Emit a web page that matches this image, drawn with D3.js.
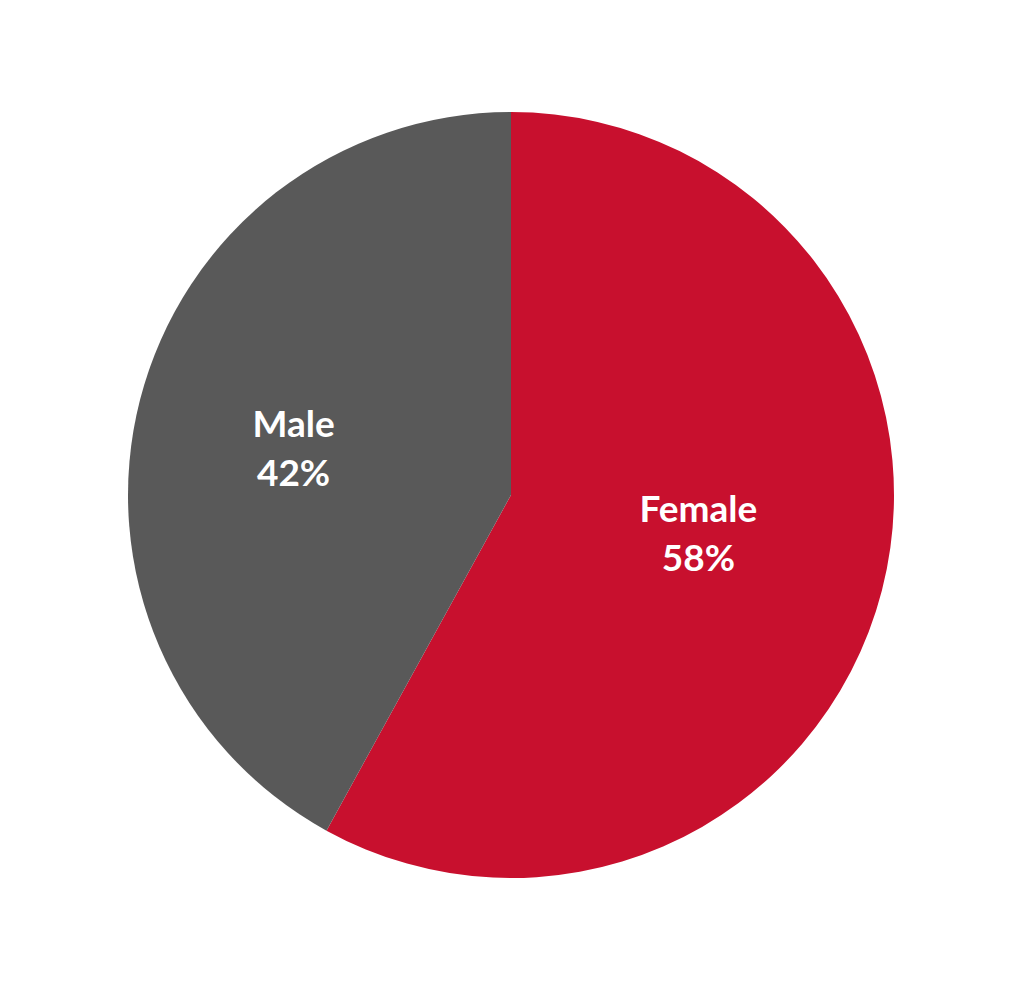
<script src="https://d3js.org/d3.v7.min.js"></script>
<style>
  body { margin: 0; background: #fff; }
</style>
<div id="my_dataviz"></div>
<script>

// data
var categories = ["Female", "Male"];
var shares = [58, 42];
var colors = ["#C8102E", "#595959"];

// set the dimensions of the graph
var width = 1023,
    height = 990,
    cx = 511,
    cy = 495,
    radius = 383;

var svg = d3.select("#my_dataviz")
  .append("svg")
    .attr("width", width)
    .attr("height", height)
  .append("g")
    .attr("transform", "translate(" + cx + "," + cy + ")");

var data = categories.map(function(c, i) { return {name: c, value: shares[i]}; });

var color = d3.scaleOrdinal()
  .domain(categories)
  .range(colors);

// first slice starts at 12 o'clock, clockwise, keep input order
var pie = d3.pie()
  .sort(null)
  .value(function(d) { return d.value; });

var arc = d3.arc()
  .innerRadius(0)
  .outerRadius(radius);

var arcs = pie(data);

svg.selectAll("path")
  .data(arcs)
  .enter()
  .append("path")
    .attr("d", arc)
    .attr("fill", function(d) { return color(d.data.name); });

// labels sit roughly where Excel's best fit puts them
var labelRadius = {Female: radius * 0.50, Male: radius * 0.58};
var angleShift = -0.045;

var labels = svg.selectAll("g.lbl")
  .data(arcs)
  .enter()
  .append("g")
    .attr("class", "lbl")
    .attr("transform", function(d) {
      var r = labelRadius[d.data.name];
      var a = (d.startAngle + d.endAngle) / 2 + angleShift;
      return "translate(" + (r * Math.sin(a)) + "," + (-r * Math.cos(a)) + ")";
    });

labels.append("text")
  .attr("y", -12)
  .attr("text-anchor", "middle")
  .style("font-family", "Lato, 'Open Sans', sans-serif")
  .style("font-weight", "bold")
  .style("font-size", "37px")
  .style("fill", "#fff")
  .text(function(d) { return d.data.name; });

labels.append("text")
  .attr("y", 37)
  .attr("text-anchor", "middle")
  .style("font-family", "Lato, 'Open Sans', sans-serif")
  .style("font-weight", "bold")
  .style("font-size", "37px")
  .style("fill", "#fff")
  .text(function(d) { return d.data.value + "%"; });

</script>
